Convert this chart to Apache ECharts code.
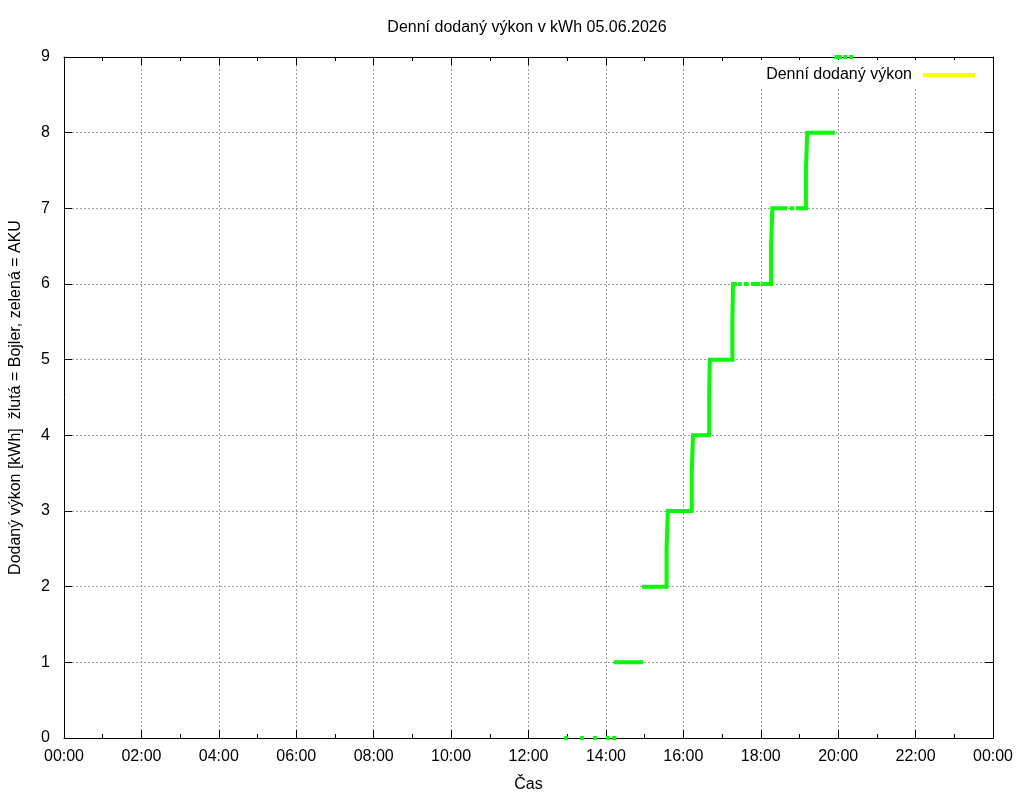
<!DOCTYPE html>
<html>
<head>
<meta charset="utf-8">
<script src="https://cdn.jsdelivr.net/npm/echarts@6/dist/echarts.min.js"></script>
<style>
html, body { margin: 0; padding: 0; background: #fff; }
#chart { width: 1024px; height: 800px; }
</style>
</head>
<body>
<div id="chart"></div>
<script>
var titleText = 'Denní dodaný výkon v kWh 05.06.2026';
var xName = 'Čas';
var yName = 'Dodaný výkon [kWh]  žlutá = Bojler, zelená = AKU';
var bojlerName = 'Denní dodaný výkon';
var akuName = 'AKU';

// popisky osy x (po 2 hodinach)
var xTickLabels = ['00:00', '02:00', '04:00', '06:00', '08:00', '10:00', '12:00',
	'14:00', '16:00', '18:00', '20:00', '22:00', '00:00'];
var yTickLabels = ['0', '1', '2', '3', '4', '5', '6', '7', '8', '9'];

// AKU - cas a hodnota, null = vypadek dat
var akuTimes = ['12:55', '13:01', null, '13:20', '13:26', null, '13:40', '13:46', null,
	'14:00', '14:06', null, '14:09', '14:16', null, '14:12', '14:58', null,
	'14:56', '15:34', '15:36', '16:13', '16:15', '16:40', '16:41', '17:16', '17:17', '17:23', null,
	'17:25', '17:30', null, '17:34', '17:41', null, '17:45', '17:59', null,
	'18:01', '18:16', '18:18', '18:41', null, '18:45', '18:52', null,
	'18:54', '19:10', '19:12', '19:55', null, '19:54', '20:06', null,
	'20:08', '20:14', null, '20:17', '20:23'];
var akuValues = [0, 0, null, 0, 0, null, 0, 0, null,
	0, 0, null, 0, 0, null, 1, 1, null,
	2, 2.5, 3, 3.5, 4, 4.5, 5, 5.5, 6, 6, null,
	6, 6, null, 6, 6, null, 6, 6, null,
	6, 6.5, 7, 7, null, 7, 7, null,
	7, 7.5, 8, 8, null, 9, 9, null,
	9, 9, null, 9, 9];
// Bojler - dnes bez dat
var bojlerTimes = [];
var bojlerValues = [];

var toMinutes = function(s){
	var p = s.split(':');
	return parseInt(p[0], 10) * 60 + parseInt(p[1], 10);
};

var buildData = function(times, values){
	var result = [];
	var last = 0;
	for (var i = 0; i < times.length; i++) {
		if (times[i] == null || values[i] == null) {
			result.push([last, '-']);
		} else {
			last = toMinutes(times[i]);
			result.push([last, values[i]]);
		}
	}
	return result;
};

var font = 'Liberation Sans, Arial, sans-serif';
var gridLine = { show: true, lineStyle: { color: '#a0a0a0', width: 1, type: [2, 2] } };
var axisLine = { show: true, onZero: false, lineStyle: { color: '#000', width: 1 } };
// ticky dovnitr grafu
var tick = { show: true, inside: true, length: 8, lineStyle: { color: '#000' } };
var minor = { show: true, splitNumber: 2, length: 4, lineStyle: { color: '#000' } };

var chart = echarts.init(document.getElementById('chart'));
var option = {
	animation: false,
	backgroundColor: '#fff',
	textStyle: { fontFamily: font, color: '#000' },
	title: {
		text: titleText,
		left: 527,
		textAlign: 'center',
		top: 20,
		padding: 0,
		textStyle: { fontFamily: font, fontSize: 16, fontWeight: 'normal', color: '#000' }
	},
	legend: {
		data: [bojlerName],
		right: 32,
		top: 60,
		align: 'right',
		icon: 'rect',
		itemWidth: 52,
		itemHeight: 4,
		padding: [7, 17, 4, 12],
		backgroundColor: '#fff',
		selectedMode: false,
		textStyle: { fontFamily: font, fontSize: 16, color: '#000', padding: [0, 6, 0, 0] }
	},
	grid: { left: 64, right: 31, top: 57, bottom: 62, containLabel: false, outerBoundsMode: 'none' },
	xAxis: [{
		type: 'value',
		min: 0,
		max: 1440,
		interval: 120,
		name: xName,
		nameLocation: 'middle',
		nameGap: 39,
		nameTextStyle: { fontFamily: font, fontSize: 16, color: '#000' },
		axisLine: axisLine,
		axisTick: tick,
		minorTick: minor,
		axisLabel: {
			margin: 11,
			fontFamily: font,
			fontSize: 16,
			color: '#000',
			formatter: function(v){ return xTickLabels[Math.round(v / 120)]; }
		},
		splitLine: gridLine
	}, {
		type: 'value',
		position: 'top',
		min: 0,
		max: 1440,
		interval: 120,
		axisLine: axisLine,
		axisTick: tick,
		minorTick: minor,
		axisLabel: { show: false },
		splitLine: { show: false }
	}],
	yAxis: [{
		type: 'value',
		min: 0,
		max: 9,
		interval: 1,
		name: yName,
		nameLocation: 'middle',
		nameRotate: 90,
		nameGap: 40,
		nameTextStyle: { fontFamily: font, fontSize: 16, color: '#000' },
		axisLine: axisLine,
		axisTick: tick,
		axisLabel: {
			margin: 14,
			fontFamily: font,
			fontSize: 16,
			color: '#000',
			formatter: function(v){ return yTickLabels[Math.round(v)]; }
		},
		splitLine: gridLine
	}, {
		type: 'value',
		position: 'right',
		min: 0,
		max: 9,
		interval: 1,
		axisLine: axisLine,
		axisTick: tick,
		axisLabel: { show: false },
		splitLine: { show: false }
	}],
	series: [{
		name: bojlerName,
		type: 'line',
		step: 'end',
		showSymbol: false,
		silent: true,
		itemStyle: { color: '#ffff00' },
		lineStyle: { color: '#ffff00', width: 4 },
		data: buildData(bojlerTimes, bojlerValues)
	}, {
		name: akuName,
		type: 'line',
		step: 'end',
		showSymbol: false,
		connectNulls: false,
		clip: false,
		silent: true,
		z: 3,
		itemStyle: { color: '#00ff00' },
		lineStyle: { color: '#00ff00', width: 4, cap: 'butt', join: 'miter' },
		data: buildData(akuTimes, akuValues)
	}]
};
chart.setOption(option);
</script>
</body>
</html>
